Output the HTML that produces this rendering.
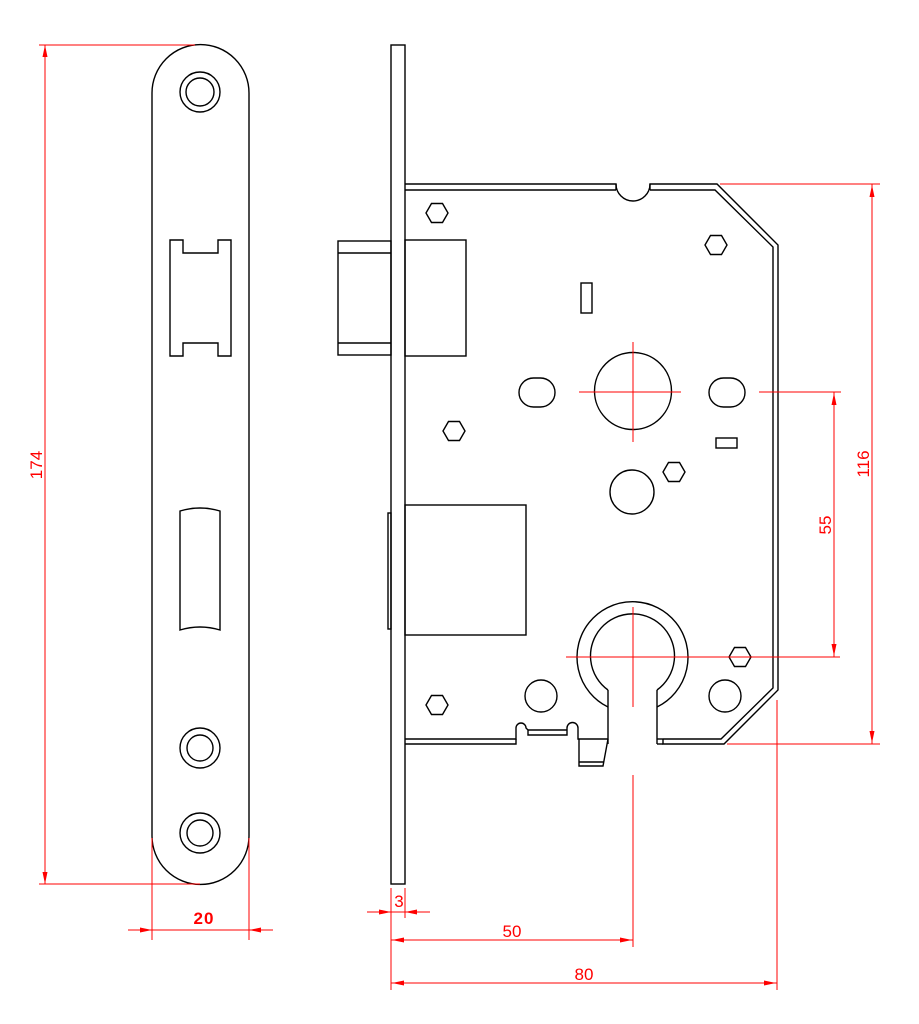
<!DOCTYPE html>
<html><head><meta charset="utf-8"><style>
html,body{margin:0;padding:0;background:#fff;}
svg{display:block;}
.k{fill:none;stroke:#000;stroke-width:1.4;}
.r{fill:none;stroke:#f00;stroke-width:1;}
.t{fill:#f00;font-family:"Liberation Sans",sans-serif;font-size:17px;}
.a{fill:#f00;stroke:none;}
</style></head><body>
<svg width="919" height="1024" viewBox="0 0 919 1024" xmlns="http://www.w3.org/2000/svg">
<path class="k" d="M152,93 A48.5,48.5 0 0 1 249,93 L249,836 A48.5,48.5 0 0 1 152,836 Z"/>
<circle class="k" cx="200" cy="92" r="20"/><circle class="k" cx="200" cy="92" r="14"/>
<circle class="k" cx="200" cy="748" r="20"/><circle class="k" cx="200" cy="748" r="13"/>
<circle class="k" cx="200" cy="833" r="20"/><circle class="k" cx="200" cy="833" r="13"/>
<path class="k" d="M170,240 L183,240 L183,253 L218,253 L218,240 L231,240 L231,356 L218,356 L218,343 L183,343 L183,356 L170,356 Z"/>
<path class="k" d="M180,511 Q200,505 220,511 L220,630 Q200,624 180,630 Z"/>

<rect class="k" x="391" y="45" width="14" height="839"/>
<rect class="k" x="388" y="513" width="3" height="116"/>
<rect class="k" x="338" y="241" width="53" height="114"/>
<line class="k" x1="338" y1="253" x2="391" y2="253"/>
<line class="k" x1="338" y1="343" x2="391" y2="343"/>
<rect class="k" x="405" y="240" width="61" height="116"/>
<rect class="k" x="405" y="505" width="121" height="130"/>

<path class="k" d="M405,184 L616,184 A17,17 0 0 0 650,184 L717,184 L778,245 L778,690 L724,744 L663,744 L663,739"/>
<path class="k" d="M405,190 L616,190"/>
<path class="k" d="M650,190 L715,190 L773,247 L773,688 L721,739 L663,739"/>
<line class="k" x1="616" y1="184" x2="616" y2="190"/>
<line class="k" x1="650" y1="184" x2="650" y2="190"/>
<line class="k" x1="657" y1="739" x2="663" y2="739"/>
<line class="k" x1="657" y1="744" x2="663" y2="744"/>
<path class="k" d="M405,739 L516,739 L516,728 A5,5 0 0 1 526,728 L528,730 L528,735 L567,735 L567,728 A5.5,5.5 0 0 1 578,728 L578,739 L608,739"/>
<path class="k" d="M405,744 L516,744 L516,739"/>
<line class="k" x1="528" y1="730" x2="567" y2="730"/>
<path class="k" d="M579,739 L579,766 L603,766 L608,739"/>
<line class="k" x1="579" y1="762" x2="604" y2="762"/>
<path class="k" d="M608,707 A55.5,55.5 0 1 1 657,707"/>
<path class="k" d="M608,690 A42,42 0 1 1 657,690"/>
<line class="k" x1="608" y1="690" x2="608" y2="744"/>
<line class="k" x1="657" y1="690" x2="657" y2="744"/>

<circle class="k" cx="633" cy="391" r="38.5"/>
<circle class="k" cx="632" cy="492" r="22"/>
<circle class="k" cx="541" cy="696" r="16"/>
<circle class="k" cx="725" cy="696" r="16"/>
<rect class="k" x="519" y="378" width="36" height="29" rx="14.5"/>
<rect class="k" x="709" y="378" width="36" height="29" rx="14.5"/>
<rect class="k" x="581" y="283" width="11" height="30"/>
<rect class="k" x="716" y="438" width="21" height="10"/>
<g class="k">
<polygon points="426,213 431.5,203.5 442.5,203.5 448,213 442.5,222.5 431.5,222.5"/>
<polygon points="705,245 710.5,235.5 721.5,235.5 727,245 721.5,254.5 710.5,254.5"/>
<polygon points="443,431 448.5,421.5 459.5,421.5 465,431 459.5,440.5 448.5,440.5"/>
<polygon points="663,472 668.5,462.5 679.5,462.5 685,472 679.5,481.5 668.5,481.5"/>
<polygon points="729,657 734.5,647.5 745.5,647.5 751,657 745.5,666.5 734.5,666.5"/>
<polygon points="426,705 431.5,695.5 442.5,695.5 448,705 442.5,714.5 431.5,714.5"/>
</g>

<line class="r" x1="579" y1="392" x2="681" y2="392"/>
<line class="r" x1="633" y1="342" x2="633" y2="442"/>
<line class="r" x1="566" y1="657" x2="840" y2="657"/>
<line class="r" x1="633" y1="607" x2="633" y2="707"/>

<line class="r" x1="39" y1="45" x2="195" y2="45"/>
<line class="r" x1="39" y1="884" x2="200" y2="884"/>
<line class="r" x1="45" y1="45" x2="45" y2="884"/>
<polygon class="a" points="45,45 42.5,57 47.5,57"/>
<polygon class="a" points="45,884 42.5,872 47.5,872"/>
<text class="t" transform="translate(42,465) rotate(-90)" text-anchor="middle">174</text>

<line class="r" x1="152" y1="838" x2="152" y2="940"/>
<line class="r" x1="249" y1="838" x2="249" y2="940"/>
<line class="r" x1="128" y1="930" x2="273" y2="930"/>
<polygon class="a" points="152,930 140,927.5 140,932.5"/>
<polygon class="a" points="249,930 261,927.5 261,932.5"/>
<text class="t" x="204" y="924" text-anchor="middle" style="font-weight:bold;letter-spacing:1px">20</text>

<line class="r" x1="391" y1="888" x2="391" y2="990"/>
<line class="r" x1="405" y1="888" x2="405" y2="918"/>
<line class="r" x1="367" y1="912" x2="430" y2="912"/>
<polygon class="a" points="391,912 379,909.5 379,914.5"/>
<polygon class="a" points="405,912 417,909.5 417,914.5"/>
<text class="t" x="399" y="907" text-anchor="middle">3</text>

<line class="r" x1="633" y1="775" x2="633" y2="947"/>
<line class="r" x1="391" y1="940" x2="633" y2="940"/>
<polygon class="a" points="392,940 404,937.5 404,942.5"/>
<polygon class="a" points="632,940 620,937.5 620,942.5"/>
<text class="t" x="512" y="937" text-anchor="middle">50</text>

<line class="r" x1="777" y1="700" x2="777" y2="990"/>
<line class="r" x1="391" y1="983" x2="777" y2="983"/>
<polygon class="a" points="392,983 404,980.5 404,985.5"/>
<polygon class="a" points="776,983 764,980.5 764,985.5"/>
<text class="t" x="584" y="980" text-anchor="middle">80</text>

<line class="r" x1="720" y1="184" x2="880" y2="184"/>
<line class="r" x1="727" y1="744" x2="880" y2="744"/>
<line class="r" x1="872" y1="184" x2="872" y2="744"/>
<polygon class="a" points="872,185 869.5,197 874.5,197"/>
<polygon class="a" points="872,743 869.5,731 874.5,731"/>
<text class="t" transform="translate(869,464) rotate(-90)" text-anchor="middle">116</text>

<line class="r" x1="759" y1="392" x2="841" y2="392"/>
<line class="r" x1="834" y1="392" x2="834" y2="657"/>
<polygon class="a" points="834,393 831.5,405 836.5,405"/>
<polygon class="a" points="834,656 831.5,644 836.5,644"/>
<text class="t" transform="translate(831,525) rotate(-90)" text-anchor="middle">55</text>
</svg>
</body></html>
